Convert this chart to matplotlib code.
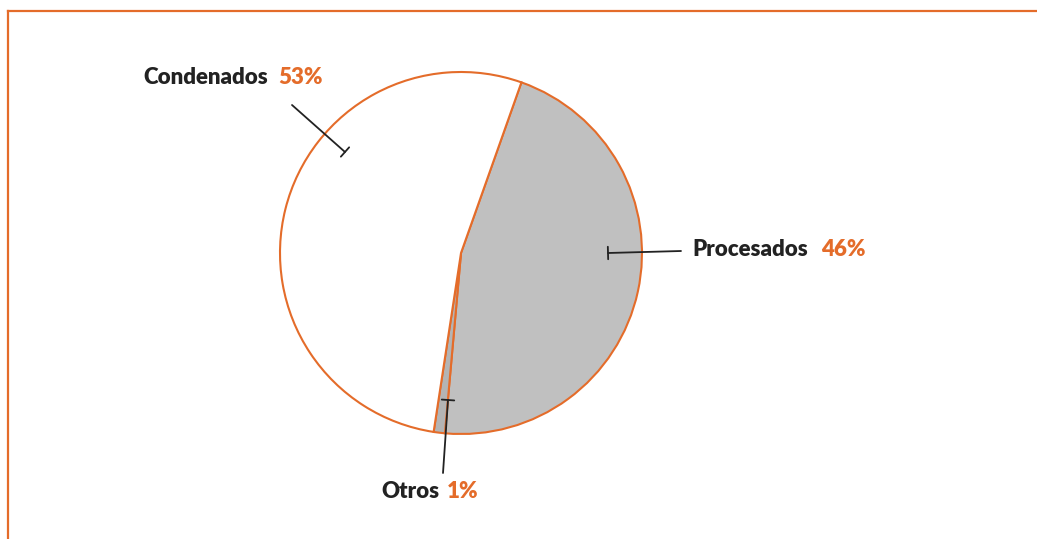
import matplotlib
matplotlib.use('Agg')
import matplotlib.pyplot as plt

# data
labels = ['Procesados', 'Otros', 'Condenados']
values = [46, 1, 53]
pct_text = ['46%', '1%', '53%']
fills = ['#C0C0C0', '#B4B4B4', '#FFFFFF']

orange = '#E46C2A'
dark = '#222222'

W, H = 1037, 539
fig = plt.figure(figsize=(W / 100, H / 100), dpi=100)

# frame with orange top and left border
fax = fig.add_axes([8 / W, 0, 1 - 8 / W, 1 - 11 / H])
fax.set_xticks([])
fax.set_yticks([])
for side in ['right', 'bottom']:
    fax.spines[side].set_visible(False)
for side in ['top', 'left']:
    fax.spines[side].set_color(orange)
    fax.spines[side].set_linewidth(1.6)
fax.patch.set_alpha(0)

# main axes in pixel units (y up)
ax = fig.add_axes([0, 0, 1, 1])
ax.set_xlim(0, W)
ax.set_ylim(0, H)
ax.axis('off')
ax.patch.set_alpha(0)

ax.pie(values, colors=fills, startangle=90 - 19.5, counterclock=False,
       center=(461, H - 253), radius=181,
       wedgeprops=dict(edgecolor=orange, linewidth=1.5))
ax.set_aspect('equal')
ax.set_xlim(0, W)
ax.set_ylim(0, H)

fam = ['Lato', 'DejaVu Sans']
fs = 16
bar = '-[, widthB=0.45, lengthB=0'

# Condenados
ax.annotate('', xy=(345, H - 152), xytext=(292, H - 105),
            arrowprops=dict(arrowstyle=bar, color=dark, lw=1.3, shrinkA=0, shrinkB=0))
ax.text(268, H - 78, labels[2], ha='right', va='center', fontsize=fs,
        fontweight='heavy', color=dark, family=fam)
ax.text(278, H - 78, pct_text[2], ha='left', va='center', fontsize=fs,
        fontweight='heavy', color=orange, family=fam)

# Procesados
ax.annotate('', xy=(608, H - 253), xytext=(681, H - 251),
            arrowprops=dict(arrowstyle=bar, color=dark, lw=1.3, shrinkA=0, shrinkB=0))
ax.text(808, H - 249, labels[0], ha='right', va='center', fontsize=fs,
        fontweight='heavy', color=dark, family=fam)
ax.text(821, H - 249, pct_text[0], ha='left', va='center', fontsize=fs,
        fontweight='heavy', color=orange, family=fam)

# Otros
ax.annotate('', xy=(448, H - 400), xytext=(443, H - 473),
            arrowprops=dict(arrowstyle=bar, color=dark, lw=1.3, shrinkA=0, shrinkB=0))
ax.text(440, H - 492, labels[1], ha='right', va='center', fontsize=fs,
        fontweight='heavy', color=dark, family=fam)
ax.text(447, H - 492, pct_text[1], ha='left', va='center', fontsize=fs,
        fontweight='heavy', color=orange, family=fam)

fig.savefig('out.png', dpi=100)
plt.close(fig)
